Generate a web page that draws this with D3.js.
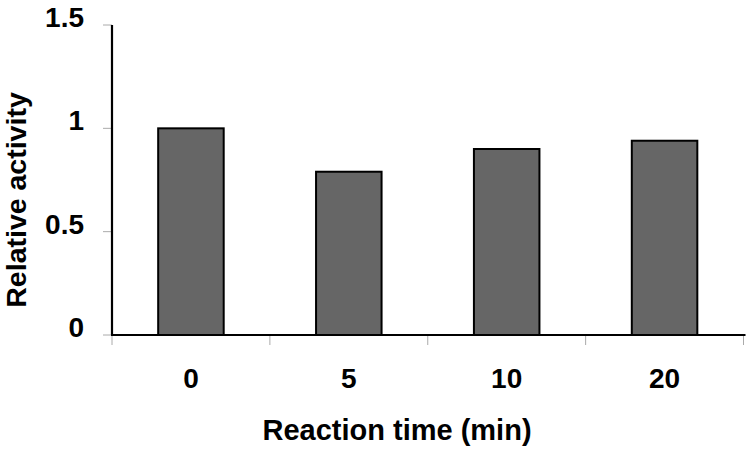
<!DOCTYPE html>
<html>
<head>
<meta charset="utf-8">
<script src="https://cdn.jsdelivr.net/npm/d3@7"></script>
<style>
  html, body { margin: 0; padding: 0; background: #fff; }
  svg { display: block; }
  text { font-family: "Liberation Sans", Arial, sans-serif; font-weight: bold; fill: #000; }
</style>
</head>
<body>
<svg id="chart" width="750" height="451"></svg>
<script>
const categories = ["0", "5", "10", "20"];
const values = [1.0, 0.79, 0.90, 0.94];
const yTicks = [0, 0.5, 1, 1.5];
const yTickLabels = ["0", "0.5", "1", "1.5"];
const xTitle = "Reaction time (min)";
const yTitle = "Relative activity";

const svg = d3.select("#chart");
const plotLeft = 112, plotRight = 743.5, plotTop = 25, plotBottom = 335;

const x = d3.scaleBand().domain(categories).range([plotLeft, plotRight])
  .paddingInner(0.585).paddingOuter(0.2925);
const y = d3.scaleLinear().domain([0, 1.5]).range([plotBottom, plotTop]);

// gray tick marks
const tickColor = "#aaa";
const boundaries = categories.map(c => x(c) - (x.step() - x.bandwidth()) / 2);
boundaries.push(plotRight);
svg.append("g").selectAll("line").data(boundaries).join("line")
  .attr("x1", d => d).attr("x2", d => d)
  .attr("y1", plotBottom).attr("y2", plotBottom + 10)
  .attr("stroke", tickColor).attr("stroke-width", 1);
svg.append("g").selectAll("line").data(yTicks).join("line")
  .attr("x1", plotLeft - 9).attr("x2", plotLeft)
  .attr("y1", d => y(d)).attr("y2", d => y(d))
  .attr("stroke", tickColor).attr("stroke-width", 1);

// bars
svg.append("g").selectAll("rect").data(values).join("rect")
  .attr("x", (d, i) => x(categories[i]))
  .attr("y", d => y(d))
  .attr("width", x.bandwidth())
  .attr("height", d => y(0) - y(d))
  .attr("fill", "#666666")
  .attr("stroke", "#000")
  .attr("stroke-width", 2);

// axis lines
svg.append("line").attr("x1", plotLeft).attr("x2", plotLeft).attr("y1", plotTop).attr("y2", plotBottom)
  .attr("stroke", "#000").attr("stroke-width", 2.2);
svg.append("line").attr("x1", plotLeft - 1).attr("x2", plotRight + 2).attr("y1", plotBottom).attr("y2", plotBottom)
  .attr("stroke", "#000").attr("stroke-width", 2.2);

// y tick labels
svg.append("g").selectAll("text").data(yTicks).join("text")
  .attr("x", 84).attr("y", d => y(d) + 2)
  .attr("text-anchor", "end")
  .style("font-size", "28px")
  .text((d, i) => yTickLabels[i]);

// x tick labels
svg.append("g").selectAll("text").data(categories).join("text")
  .attr("x", d => x(d) + x.bandwidth() / 2)
  .attr("y", 388)
  .attr("text-anchor", "middle")
  .style("font-size", "28px")
  .text(d => d);

// titles
svg.append("text").attr("x", 397).attr("y", 440).attr("text-anchor", "middle")
  .style("font-size", "29px").text(xTitle);
svg.append("text").attr("transform", "translate(26,200) rotate(-90)")
  .attr("text-anchor", "middle").style("font-size", "28.5px").text(yTitle);
</script>
</body>
</html>
